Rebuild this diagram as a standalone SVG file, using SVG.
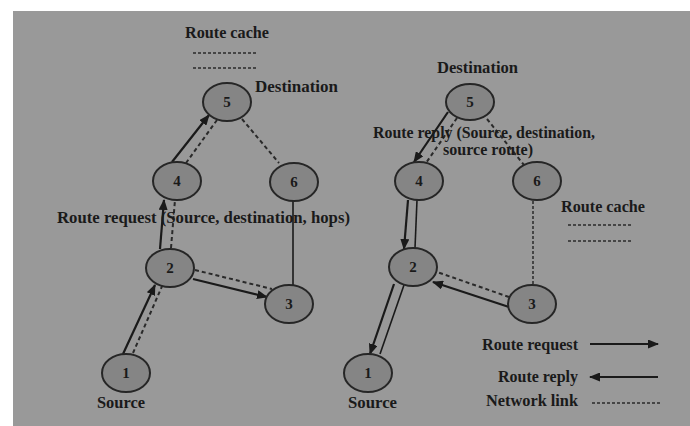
<svg xmlns="http://www.w3.org/2000/svg" width="690" height="426" viewBox="0 0 690 426">
<style>
.t{font-family:"Liberation Serif","Times New Roman",serif;font-weight:bold;font-size:16px;fill:#1a1a1a}
.n{font-family:"Liberation Serif","Times New Roman",serif;font-weight:bold;font-size:15px;fill:#1a1a1a;text-anchor:middle}
.node{fill:#858585;stroke:#262626;stroke-width:2}
.s{stroke:#1a1a1a;stroke-width:2.2;fill:none}
.thin{stroke:#1a1a1a;stroke-width:1.6;fill:none}
.d{stroke:#2a2a2a;stroke-width:2;stroke-dasharray:4 3;fill:none}
.dl{stroke:#2a2a2a;stroke-width:1.5;stroke-dasharray:3 2;fill:none}
</style>
<defs>
<marker id="ah" markerUnits="userSpaceOnUse" markerWidth="11" markerHeight="9" refX="10" refY="4.5" orient="auto">
<path d="M0,0 L11,4.5 L0,9 z" fill="#1a1a1a"/>
</marker>
</defs>
<rect x="0" y="0" width="690" height="426" fill="#ffffff"/>
<rect x="13" y="11" width="677" height="415" fill="#999999"/>

<g id="connectors">
<!-- left graph -->
<line class="s" x1="123" y1="354" x2="155" y2="285" marker-end="url(#ah)"/>
<line class="d" x1="133" y1="353" x2="163" y2="284"/>
<line class="s" x1="160" y1="249" x2="164" y2="200" marker-end="url(#ah)"/>
<line class="d" x1="171" y1="248" x2="175" y2="200"/>
<line class="s" x1="172" y1="162" x2="209" y2="115" marker-end="url(#ah)"/>
<line class="d" x1="186" y1="163" x2="217" y2="120"/>
<line class="d" x1="242" y1="119" x2="279" y2="163"/>
<line class="thin" x1="293" y1="201" x2="293" y2="285"/>
<line class="s" x1="193" y1="279" x2="267" y2="297" marker-end="url(#ah)"/>
<line class="d" x1="195" y1="270" x2="272" y2="289"/>
<!-- right graph -->
<line class="s" x1="448" y1="112" x2="414" y2="162" marker-end="url(#ah)"/>
<line class="d" x1="457" y1="118" x2="426" y2="163"/>
<line class="d" x1="487" y1="119" x2="524" y2="165"/>
<line class="s" x1="408" y1="200" x2="404" y2="249" marker-end="url(#ah)"/>
<line class="thin" x1="417" y1="200" x2="415" y2="248"/>
<line class="dl" x1="533" y1="201" x2="533" y2="285"/>
<line class="s" x1="509" y1="307" x2="433" y2="282" marker-end="url(#ah)"/>
<line class="d" x1="509" y1="297" x2="437" y2="272"/>
<line class="s" x1="394" y1="284" x2="370" y2="354" marker-end="url(#ah)"/>
<line class="thin" x1="404" y1="285" x2="380" y2="354"/>
</g>

<g id="L1"><ellipse class="node" cx="126" cy="373" rx="24" ry="19"/><text class="n" x="126" y="378">1</text></g>
<g id="L2"><ellipse class="node" cx="170" cy="268" rx="24" ry="19"/><text class="n" x="170" y="273">2</text></g>
<g id="L3"><ellipse class="node" cx="289" cy="304" rx="24" ry="19"/><text class="n" x="289" y="309">3</text></g>
<g id="L4"><ellipse class="node" cx="177" cy="181" rx="24" ry="19"/><text class="n" x="177" y="186">4</text></g>
<g id="L5"><ellipse class="node" cx="227" cy="102" rx="24" ry="19"/><text class="n" x="227" y="107">5</text></g>
<g id="L6"><ellipse class="node" cx="294" cy="182" rx="24" ry="19"/><text class="n" x="294" y="187">6</text></g>

<g id="R1"><ellipse class="node" cx="368" cy="373" rx="24" ry="19"/><text class="n" x="368" y="378">1</text></g>
<g id="R2"><ellipse class="node" cx="413" cy="267" rx="24" ry="19"/><text class="n" x="413" y="272">2</text></g>
<g id="R3"><ellipse class="node" cx="532" cy="304" rx="24" ry="19"/><text class="n" x="532" y="309">3</text></g>
<g id="R4"><ellipse class="node" cx="419" cy="181" rx="24" ry="19"/><text class="n" x="419" y="186">4</text></g>
<g id="R5"><ellipse class="node" cx="470" cy="102" rx="24" ry="18"/><text class="n" x="470" y="107">5</text></g>
<g id="R6"><ellipse class="node" cx="537" cy="181" rx="24" ry="19"/><text class="n" x="537" y="186">6</text></g>

<g id="labels">
<text class="t" x="185" y="38" textLength="84" lengthAdjust="spacingAndGlyphs">Route cache</text>
<line class="dl" x1="193" y1="53" x2="258" y2="53"/>
<line class="dl" x1="193" y1="68" x2="258" y2="68"/>
<text class="t" x="255" y="92" textLength="83" lengthAdjust="spacingAndGlyphs">Destination</text>
<text class="t" x="57" y="223" textLength="293" lengthAdjust="spacingAndGlyphs">Route request (Source, destination, hops)</text>
<text class="t" x="97" y="408" textLength="48" lengthAdjust="spacingAndGlyphs">Source</text>

<text class="t" x="437" y="73" textLength="81" lengthAdjust="spacingAndGlyphs">Destination</text>
<text class="t" x="373" y="138" textLength="222" lengthAdjust="spacingAndGlyphs">Route reply (Source, destination,</text>
<text class="t" x="443" y="155" textLength="90" lengthAdjust="spacingAndGlyphs">source route)</text>
<text class="t" x="561" y="212" textLength="84" lengthAdjust="spacingAndGlyphs">Route cache</text>
<line class="dl" x1="568" y1="225" x2="632" y2="225"/>
<line class="dl" x1="568" y1="241" x2="632" y2="241"/>
<text class="t" x="348" y="408" textLength="49" lengthAdjust="spacingAndGlyphs">Source</text>
</g>

<g id="legend">
<text class="t" x="482" y="350" textLength="96" lengthAdjust="spacingAndGlyphs">Route request</text>
<line class="s" x1="590" y1="344" x2="658" y2="344" marker-end="url(#ah)"/>
<text class="t" x="498" y="382" textLength="80" lengthAdjust="spacingAndGlyphs">Route reply</text>
<line class="s" x1="658" y1="377" x2="590" y2="377" marker-end="url(#ah)"/>
<text class="t" x="486" y="406" textLength="92" lengthAdjust="spacingAndGlyphs">Network link</text>
<line class="dl" x1="592" y1="403" x2="660" y2="403"/>
</g>
</svg>
